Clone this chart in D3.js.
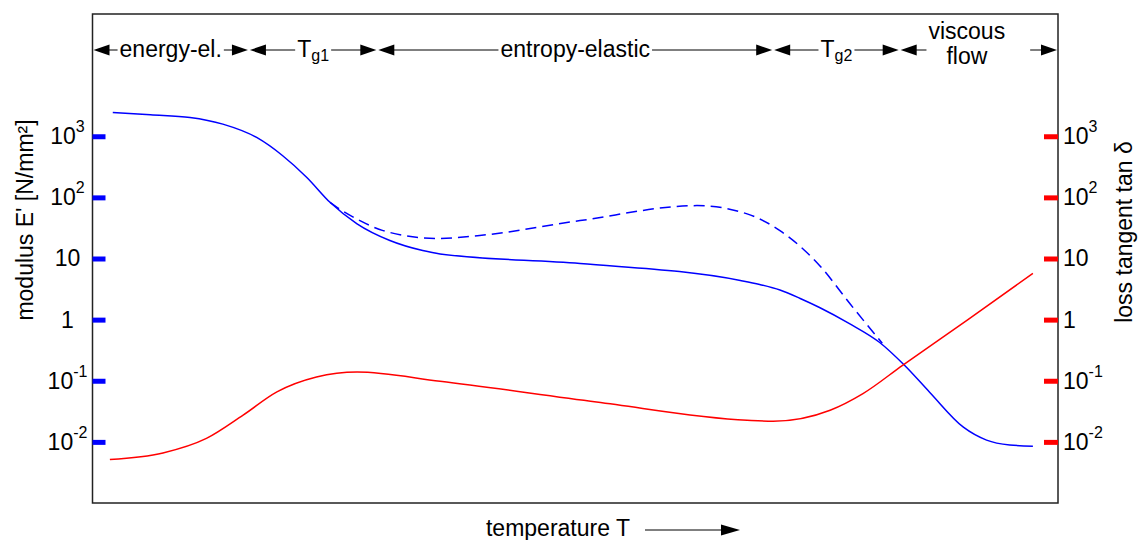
<!DOCTYPE html>
<html>
<head>
<meta charset="utf-8">
<script src="https://cdn.jsdelivr.net/npm/d3@7"></script>
<style>
  body { margin: 0; background: #fff; }
  text { font-family: "Liberation Sans", Arial, sans-serif; fill: #000; }
</style>
</head>
<body>
<svg id="chart"></svg>
<script>
  // temperature has no numbers in the original, so 0..100 spans the frame left to right

  // storage modulus E' (solid)
  var modulusT = [2.1, 6, 10.1, 13.5, 17.0, 19.7, 22.2, 24.6, 27.4, 30.8, 34.2, 36.0, 50.5, 67.1, 69.1, 71.2, 73.3, 75.3, 78.4, 81.5, 84.1, 86.7, 90.2, 92.6, 95.0, 97.4];
  var modulusE = [2450, 2240, 2030, 1580, 955, 480, 212, 83, 36.9, 19.7, 13.5, 11.9, 8.3, 4.37, 3.75, 3.05, 2.22, 1.58, 0.86, 0.426, 0.179, 0.065, 0.0174, 0.0107, 0.0089, 0.0085];

  // modulus of the second (dashed) branch
  var dashT = [24.6, 25.6, 27.7, 30.1, 35.7, 40.1, 50.5, 62.6, 67.8, 71.2, 75.3, 78.5, 81.8];
  var dashE = [83, 64.5, 41.7, 28.6, 21.2, 23.8, 41.7, 73.3, 53.7, 28.6, 7.7, 1.78, 0.41];

  // loss tangent tan delta (red)
  var lossT = [1.8, 7.3, 11.8, 15.6, 19.1, 23.2, 27.4, 36.0, 52.2, 67.8, 70.5, 76.4, 79.8, 83.9, 90.6, 97.4];
  var lossV = [0.00516, 0.0066, 0.0114, 0.0274, 0.0656, 0.115, 0.139, 0.098, 0.045, 0.0226, 0.0218, 0.033, 0.0617, 0.179, 0.985, 5.69];

  var tickVals = [1e-2, 1e-1, 1, 10, 1e2, 1e3];

  // regions along the top
  var phaseBounds = [0, 16.2, 29.5, 70.5, 83.6, 100];
  var phaseLabels = ["energy-el.", "T_g1", "entropy-elastic", "T_g2", "viscous|flow"];

  var margin = {top: 14, left: 92.5},
      width = 965.5,
      height = 489;

  var svg = d3.select('#chart')
      .attr('width', 1141)
      .attr('height', 540);
  var g = svg.append('g')
      .attr('transform', 'translate(' + margin.left + ',' + margin.top + ')');

  var x = d3.scaleLinear().domain([0, 100]).range([0, width]);
  var y = d3.scaleLog().domain([1e-3, 1e5]).range([height, 0]);

  var line = d3.line()
      .x(function(d) { return x(d[0]); })
      .y(function(d) { return y(d[1]); })
      .curve(d3.curveMonotoneX);

  g.append('path').datum(d3.zip(modulusT, modulusE))
      .attr('d', line).attr('fill', 'none')
      .attr('stroke', '#0000ff').attr('stroke-width', 1.5);
  g.append('path').datum(d3.zip(dashT, dashE))
      .attr('d', line).attr('fill', 'none')
      .attr('stroke', '#0000ff').attr('stroke-width', 1.5)
      .attr('stroke-dasharray', '11,6');
  g.append('path').datum(d3.zip(lossT, lossV))
      .attr('d', line).attr('fill', 'none')
      .attr('stroke', '#ff0000').attr('stroke-width', 1.5);

  // frame
  g.append('rect')
      .attr('width', width).attr('height', height)
      .attr('fill', 'none').attr('stroke', '#222').attr('stroke-width', 1.5);

  // tick labels 10^n with superscripts
  function powLabels(sel) {
    sel.each(function(v) {
      var t = d3.select(this).text(null);
      var e = Math.round(Math.log10(v));
      if (e === 0) t.text('1');
      else if (e === 1) t.text('10');
      else {
        t.append('tspan').text('10');
        t.append('tspan').attr('font-size', 16).attr('dy', -12).text(e);
      }
    });
  }

  var yLeft = g.append('g')
      .call(d3.axisLeft(y).tickValues(tickVals).tickSizeInner(-13).tickSizeOuter(0).tickPadding(25));
  yLeft.select('.domain').remove();
  yLeft.selectAll('.tick line').attr('stroke', '#0000ff').attr('stroke-width', 5);
  yLeft.selectAll('.tick text')
      .attr('font-size', 23).attr('text-anchor', 'middle').attr('font-family', null)
      .call(powLabels);

  var yRight = g.append('g')
      .attr('transform', 'translate(' + width + ',0)')
      .call(d3.axisRight(y).tickValues(tickVals).tickSizeInner(-14).tickSizeOuter(0).tickPadding(5));
  yRight.select('.domain').remove();
  yRight.selectAll('.tick line').attr('stroke', '#ff0000').attr('stroke-width', 5);
  yRight.selectAll('.tick text')
      .attr('font-size', 23).attr('font-family', null)
      .call(powLabels);

  // axis titles
  svg.append('text')
      .attr('transform', 'translate(33,220) rotate(-90)')
      .attr('text-anchor', 'middle').attr('font-size', 23)
      .text("modulus E' [N/mm\u00b2]");
  svg.append('text')
      .attr('transform', 'translate(1132,232) rotate(-90)')
      .attr('text-anchor', 'middle').attr('font-size', 23)
      .text('loss tangent tan \u03b4');

  // arrowheads
  function head(sel, tip, yy, dir, len, half) {
    sel.append('path')
      .attr('d', 'M' + tip + ',' + yy + 'L' + (tip - dir * len) + ',' + (yy - half) +
                 'L' + (tip - dir * len) + ',' + (yy + half) + 'Z')
      .attr('fill', '#000');
  }

  // region arrows along the top
  var headY = 36;
  var header = g.append('g');
  phaseLabels.forEach(function(lab, i) {
    var x0 = x(phaseBounds[i]) + 1, x1 = x(phaseBounds[i + 1]) - 1;
    var lines = lab.split('|');
    var cx = (x0 + x1) / 2 + (lines.length > 1 ? -12 : 0);
    var txt = header.append('text').attr('font-size', 23).attr('text-anchor', 'middle');
    if (lines.length > 1) {
      txt.attr('y', headY - 11).text(lines[0]).attr('x', cx);
      header.append('text').attr('font-size', 23).attr('text-anchor', 'middle')
        .attr('x', cx).attr('y', headY + 14).text(lines[1]);
    } else {
      var parts = lab.split('_');
      txt.attr('x', cx).attr('y', headY + 7);
      txt.append('tspan').text(parts[0]);
      if (parts[1]) txt.append('tspan').attr('font-size', 16).attr('dy', 4).text(parts[1]);
    }
    var bb = txt.node().getBBox();
    var rightGap = lines.length > 1 ? 25 : 2;
    head(header, x0, headY, -1, 16, 5.5);
    head(header, x1, headY, 1, 16, 5.5);
    header.append('line').attr('x1', x0 + 14).attr('x2', bb.x - 2)
      .attr('y1', headY).attr('y2', headY).attr('stroke', '#000').attr('stroke-width', 1);
    header.append('line').attr('x1', bb.x + bb.width + rightGap).attr('x2', x1 - 14)
      .attr('y1', headY).attr('y2', headY).attr('stroke', '#000').attr('stroke-width', 1);
  });

  // x title with arrow
  svg.append('text')
      .attr('x', 630).attr('y', 536)
      .attr('text-anchor', 'end').attr('font-size', 23)
      .text('temperature T');
  svg.append('line')
      .attr('x1', 645).attr('x2', 724).attr('y1', 530).attr('y2', 530)
      .attr('stroke', '#000').attr('stroke-width', 1);
  head(svg, 740, 530, 1, 19, 5.5);
</script>
</body>
</html>
